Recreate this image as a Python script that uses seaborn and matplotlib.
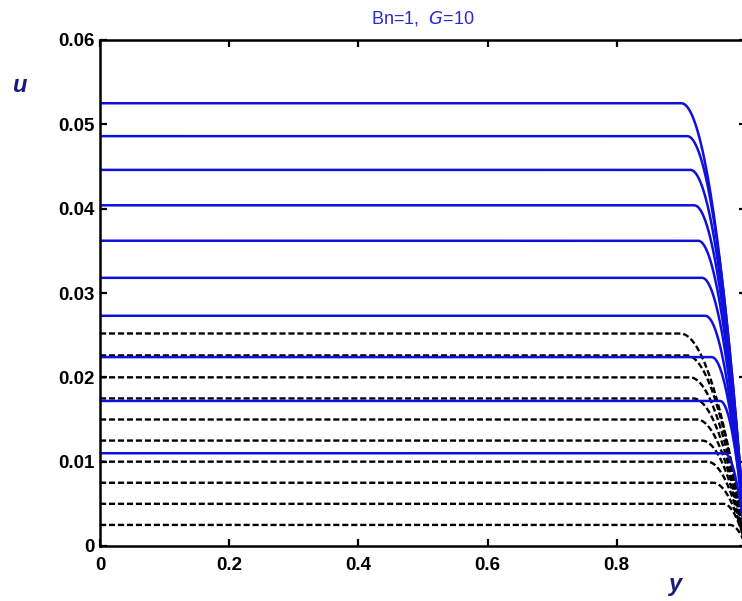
import numpy as np
import pandas as pd
import matplotlib
matplotlib.use("Agg")
import matplotlib.pyplot as plt
import seaborn as sns

# Plateau (plug) velocities and plug edges
blue_plateau = [0.0525, 0.0486, 0.0446, 0.0404, 0.0362, 0.0318, 0.0273, 0.0224, 0.0172, 0.0110]
blue_plug_edge = [0.900, 0.909, 0.914, 0.920, 0.926, 0.932, 0.937, 0.947, 0.960, 0.967]
black_plateau = [0.0252, 0.0226, 0.0200, 0.0175, 0.0150, 0.0125, 0.0100, 0.0075, 0.0050, 0.0025]
black_plug_edge = [0.898, 0.908, 0.913, 0.918, 0.924, 0.932, 0.940, 0.949, 0.965, 0.975]

x_ticks = [0, 0.2, 0.4, 0.6, 0.8, 1.0]
x_tick_labels = ["0", "0.2", "0.4", "0.6", "0.8", ""]
y_ticks = [0, 0.01, 0.02, 0.03, 0.04, 0.05, 0.06]
y_tick_labels = ["0", "0.01", "0.02", "0.03", "0.04", "0.05", "0.06"]


def profile(U, y0, group):
    y = np.linspace(0, 1, 400)
    s = np.clip((y - y0) / (1 - y0), 0, 1)
    u = U * (1 - s ** 2)
    return pd.DataFrame({"y": y, "u": u, "curve": group})


frames = []
for i, (U, y0) in enumerate(zip(black_plateau, black_plug_edge)):
    frames.append(profile(U, y0, f"k{i}"))
df_black = pd.concat(frames, ignore_index=True)
frames = []
for i, (U, y0) in enumerate(zip(blue_plateau, blue_plug_edge)):
    frames.append(profile(U, y0, f"b{i}"))
df_blue = pd.concat(frames, ignore_index=True)

sns.set_style("white")
plt.rcParams["font.family"] = ["Liberation Sans", "DejaVu Sans"]

fig = plt.figure(figsize=(7.42, 6.01), dpi=100)
L, R, T, B = 100 / 742, 746 / 742, 40 / 601, 546 / 601
ax = fig.add_axes([L, 1 - B, R - L, B - T])

sns.lineplot(data=df_black, x="y", y="u", units="curve", estimator=None,
             color="black", lw=1.7, ax=ax, sort=False)
for line in ax.lines:
    line.set_dashes([2.6, 1.2])
sns.lineplot(data=df_blue, x="y", y="u", units="curve", estimator=None,
             color="#1010dd", lw=1.8, ax=ax, sort=False)

ax.set_xlim(0, 1)
ax.set_ylim(0, 0.06)
ax.set_xticks(x_ticks)
ax.set_xticklabels(x_tick_labels)
ax.set_yticks(y_ticks)
ax.set_yticklabels(y_tick_labels)
ax.tick_params(direction="in", length=5, width=1.6, top=True, right=True,
               bottom=True, left=True, labelsize=13.5, colors="black")
ax.tick_params(axis="x", pad=8)
ax.tick_params(axis="y", pad=4)
for lab in ax.get_xticklabels() + ax.get_yticklabels():
    lab.set_fontweight("bold")
    lab.set_color("black")
for sp in ax.spines.values():
    sp.set_linewidth(1.8)
    sp.set_color("black")
ax.set_xlabel("")
ax.set_ylabel("")

fig.text(423 / 742, 1 - 19 / 601, "Bn=1,  $\\it{G}$=10", color="#2b2bd0",
         fontsize=13, ha="center", va="center")
fig.text(19 / 742, 1 - 85 / 601, "u", color="#1a1a7a", fontsize=17,
         fontweight="bold", fontstyle="italic", ha="center", va="center")
fig.text(676 / 742, 1 - 585 / 601, "y", color="#1a1a7a", fontsize=17,
         fontweight="bold", fontstyle="italic", ha="center", va="center")

fig.savefig("out.png", dpi=100)
